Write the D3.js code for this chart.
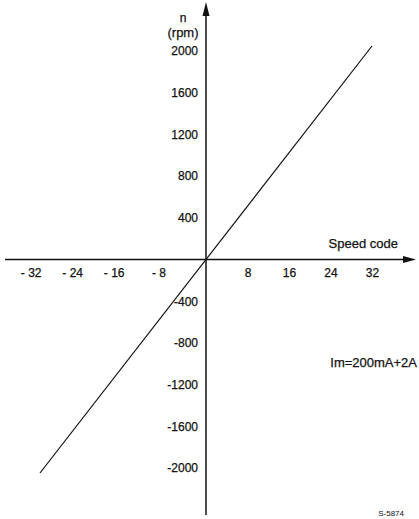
<!DOCTYPE html>
<html>
<head>
<meta charset="utf-8">
<script src="https://cdn.jsdelivr.net/npm/d3@7"></script>
<style>
  body { margin: 0; background: #fff; }
  svg { display: block; }
  text { font-family: "Liberation Sans", Arial, sans-serif; fill: #111; stroke: #111; stroke-width: 0.25; }
</style>
</head>
<body>
<svg id="chart"></svg>
<script>
const speedTicks = [-32, -24, -16, -8, 8, 16, 24, 32];
const rpmTicks = [2000, 1600, 1200, 800, 400, -400, -800, -1200, -1600, -2000];
// n = 64 * speed code
const lineCode = [-32, 32];
const lineRpm = [-2048, 2048];

const width = 419, height = 519;
const svg = d3.select('#chart').attr('width', width).attr('height', height);

const x = d3.scaleLinear().domain([-32, 32]).range([40, 372]);
const y = d3.scaleLinear().domain([-2048, 2048]).range([473, 46]);

const x0 = x(0), y0 = y(0);

// axis lines with arrow heads
svg.append('line')
  .attr('x1', 5).attr('x2', 405).attr('y1', y0).attr('y2', y0)
  .attr('stroke', '#111').attr('stroke-width', 1.5);
svg.append('path')
  .attr('d', `M416,${y0} L403,${y0 - 3.5} L403,${y0 + 3.5} Z`)
  .attr('fill', '#111');

svg.append('line')
  .attr('x1', x0).attr('x2', x0).attr('y1', 14).attr('y2', 515)
  .attr('stroke', '#111').attr('stroke-width', 1.5);
svg.append('path')
  .attr('d', `M${x0},2 L${x0 - 3.5},16 L${x0 + 3.5},16 Z`)
  .attr('fill', '#111');

// tick labels via axes, no tick marks
const xAxis = svg.append('g')
  .attr('transform', `translate(0,${y0})`)
  .call(d3.axisBottom(x).tickValues(speedTicks).tickSize(0).tickPadding(9)
    .tickFormat(d => d < 0 ? '- ' + Math.abs(d) : d));
xAxis.select('.domain').remove();
xAxis.selectAll('text')
  .attr('font-size', 12)
  .attr('font-family', '"Liberation Sans", Arial, sans-serif')
  .attr('fill', '#111')
  .attr('text-anchor', d => d < 0 ? 'end' : 'middle')
  .attr('x', d => d < 0 ? 1 : 0);

const yAxis = svg.append('g')
  .attr('transform', `translate(${x0 - 8},0)`)
  .call(d3.axisLeft(y).tickValues(rpmTicks).tickSize(0).tickPadding(0)
    .tickFormat(d => d < 0 ? '-' + Math.abs(d) : d));
yAxis.select('.domain').remove();
yAxis.selectAll('text')
  .attr('font-size', 12)
  .attr('font-family', '"Liberation Sans", Arial, sans-serif')
  .attr('fill', '#111');

// the characteristic
svg.append('path')
  .datum(d3.zip(lineCode, lineRpm))
  .attr('d', d3.line().x(d => x(d[0])).y(d => y(d[1])))
  .attr('fill', 'none')
  .attr('stroke', '#111')
  .attr('stroke-width', 1.2);

// labels
svg.append('text').attr('x', 183).attr('y', 22).attr('text-anchor', 'middle')
  .attr('font-size', 12).text('n');
svg.append('text').attr('x', 183).attr('y', 37).attr('text-anchor', 'middle')
  .attr('font-size', 13).text('(rpm)');
svg.append('text').attr('x', 398).attr('y', 248).attr('text-anchor', 'end')
  .attr('font-size', 13).text('Speed code');
svg.append('text').attr('x', 417).attr('y', 367).attr('text-anchor', 'end')
  .attr('font-size', 13).text('Im=200mA+2A');
svg.append('text').attr('x', 404).attr('y', 516).attr('text-anchor', 'end')
  .attr('font-size', 8).style('stroke-width', 0).text('S-5874');
</script>
</body>
</html>
